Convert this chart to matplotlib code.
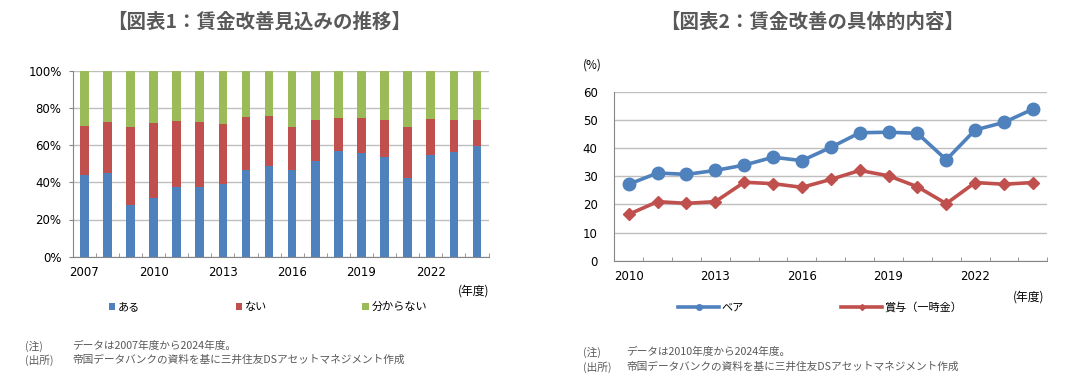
import matplotlib
matplotlib.use("Agg")
import matplotlib.pyplot as plt
from matplotlib.lines import Line2D
from matplotlib.patches import Patch
import numpy as np

JP = ['Noto Sans CJK JP', 'DejaVu Sans']

# ---- Data: chart 1 (share of firms, %) ----
years1 = list(range(2007, 2025))
aru = [43.7, 44.8, 27.8, 31.7, 37.5, 37.5, 39.2, 46.4, 48.6, 46.4, 51.3, 56.6, 55.6, 53.4, 42.3, 54.7, 56.5, 59.7]
nai_top = [70.3, 72.6, 69.9, 72.0, 73.1, 72.6, 71.5, 75.3, 75.4, 69.9, 73.7, 74.7, 74.4, 73.3, 69.9, 74.2, 73.7, 73.3]
nai = [round(t - a, 1) for t, a in zip(nai_top, aru)]
wakaranai = [round(100 - t, 1) for t in nai_top]
labels1 = ['ある', 'ない', '分からない']

# ---- Data: chart 2 (%) ----
years2 = list(range(2010, 2025))
pea = [27.2, 31.2, 30.7, 32.1, 34.0, 36.8, 35.6, 40.3, 45.5, 45.7, 45.3, 35.9, 46.5, 49.2, 53.9]
shoyo = [16.5, 21.0, 20.4, 21.0, 27.9, 27.4, 26.1, 28.9, 32.1, 30.2, 26.3, 20.3, 27.8, 27.2, 27.8]
labels2 = ['ベア', '賞与（一時金）']

BLUE, RED, GREEN = '#4F81BD', '#C0504D', '#9BBB59'
GRID = '#BFBFBF'
AXC = '#868686'
TXT = '#595959'

W, H = 1087, 381
fig = plt.figure(figsize=(W / 100, H / 100), dpi=100)
fig.patch.set_facecolor('white')

def fx(px):
    return px / W

def fy(py):
    return 1 - py / H

# ---------------- Chart 1 ----------------
ax1 = fig.add_axes([fx(72.7), fy(256.7), fx(488.5 - 72.7), (256.7 - 70.7) / H])
x1 = np.arange(len(years1))
bw = 0.37
ax1.bar(x1, aru, bw, color=BLUE, zorder=3, label=labels1[0])
ax1.bar(x1, nai, bw, bottom=aru, color=RED, zorder=3, label=labels1[1])
ax1.bar(x1, wakaranai, bw, bottom=nai_top, color=GREEN, zorder=3, label=labels1[2])
ax1.set_xlim(-0.5, len(years1) - 0.5)
ax1.set_ylim(0, 100)
ax1.set_yticks(np.arange(0, 101, 20))
ax1.set_yticklabels([f'{v}%' for v in range(0, 101, 20)])
ax1.yaxis.grid(True, color=GRID, lw=1, zorder=0)
ax1.set_xticks(x1[::3])
ax1.set_xticklabels([str(y) for y in years1[::3]])
ax1.set_xticks(np.arange(-0.5, len(years1) + 0.5, 1), minor=True)
ax1.tick_params(axis='x', which='major', length=0, pad=7, labelsize=8.5)
ax1.tick_params(axis='x', which='minor', direction='in', length=3, color=AXC)
ax1.tick_params(axis='y', which='major', direction='out', length=3, color=AXC, labelsize=8.5, pad=5)
for s in ['top', 'right']:
    ax1.spines[s].set_visible(False)
for s in ['left', 'bottom']:
    ax1.spines[s].set_color(AXC)

h1 = [Patch(facecolor=c, edgecolor='none') for c in (BLUE, RED, GREEN)]
leg1 = fig.legend(h1, labels1, loc='center', bbox_to_anchor=(fx(268), fy(307)), ncol=3,
                  frameon=False, handlelength=0.55, handleheight=0.55, handletextpad=0.25,
                  columnspacing=8.6, prop={'family': JP, 'size': 8})

fig.text(fx(458), fy(291), '(年度)', family=JP, fontsize=8.5, va='center', ha='left')

fig.text(fx(259), fy(22), '【図表1：賃金改善見込みの推移】', family=JP, fontsize=14,
         fontweight='bold', color=TXT, ha='center', va='center')

NF = 7.7
fig.text(fx(25), fy(346), '(注)', family=JP, fontsize=NF, color=TXT, va='center')
fig.text(fx(72), fy(346), 'データは2007年度から2024年度。', family=JP, fontsize=NF, color=TXT, va='center')
fig.text(fx(25), fy(360), '(出所)', family=JP, fontsize=NF, color=TXT, va='center')
fig.text(fx(72), fy(360), '帝国データバンクの資料を基に三井住友DSアセットマネジメント作成', family=JP, fontsize=NF,
         color=TXT, va='center')

# ---------------- Chart 2 ----------------
ax2 = fig.add_axes([fx(614.3), fy(260.7), fx(1047.3 - 614.3), (260.7 - 92) / H])
x2 = np.arange(len(years2))
ax2.plot(x2, pea, color=BLUE, lw=2.6, marker='o', ms=9, zorder=4, label=labels2[0])
ax2.plot(x2, shoyo, color=RED, lw=2.6, marker='D', ms=6.5, zorder=4, label=labels2[1])
ax2.set_xlim(-0.5, len(years2) - 0.5)
ax2.set_ylim(0, 60)
ax2.set_yticks(np.arange(0, 61, 10))
ax2.yaxis.grid(True, color=GRID, lw=1, zorder=0)
ax2.set_xticks(x2[::3])
ax2.set_xticklabels([str(y) for y in years2[::3]])
ax2.set_xticks(np.arange(-0.5, len(years2) + 0.5, 1), minor=True)
ax2.tick_params(axis='x', which='major', length=0, pad=7, labelsize=8.5)
ax2.tick_params(axis='x', which='minor', direction='in', length=3, color=AXC)
ax2.tick_params(axis='y', which='major', length=0, labelsize=8.5, pad=12)
for s in ['top', 'right']:
    ax2.spines[s].set_visible(False)
for s in ['left', 'bottom']:
    ax2.spines[s].set_color(AXC)

h2 = [Line2D([], [], color=BLUE, lw=2.6, marker='o', ms=4),
      Line2D([], [], color=RED, lw=2.6, marker='D', ms=3)]
leg2 = fig.legend(h2, labels2, loc='center', bbox_to_anchor=(fx(820), fy(307)), ncol=2,
                  frameon=False, handlelength=3.7, handletextpad=0.15,
                  columnspacing=8.8, prop={'family': JP, 'size': 8})

fig.text(fx(583), fy(65), '(%)', family=JP, fontsize=8.5, va='center', ha='left')
fig.text(fx(1013), fy(297), '(年度)', family=JP, fontsize=8.5, va='center', ha='left')

fig.text(fx(812), fy(22), '【図表2：賃金改善の具体的内容】', family=JP, fontsize=14,
         fontweight='bold', color=TXT, ha='center', va='center')

fig.text(fx(583), fy(352), '(注)', family=JP, fontsize=NF, color=TXT, va='center')
fig.text(fx(626), fy(352), 'データは2010年度から2024年度。', family=JP, fontsize=NF, color=TXT, va='center')
fig.text(fx(583), fy(367), '(出所)', family=JP, fontsize=NF, color=TXT, va='center')
fig.text(fx(626), fy(367), '帝国データバンクの資料を基に三井住友DSアセットマネジメント作成', family=JP, fontsize=NF,
         color=TXT, va='center')

fig.savefig('out.png', dpi=100, facecolor='white')
